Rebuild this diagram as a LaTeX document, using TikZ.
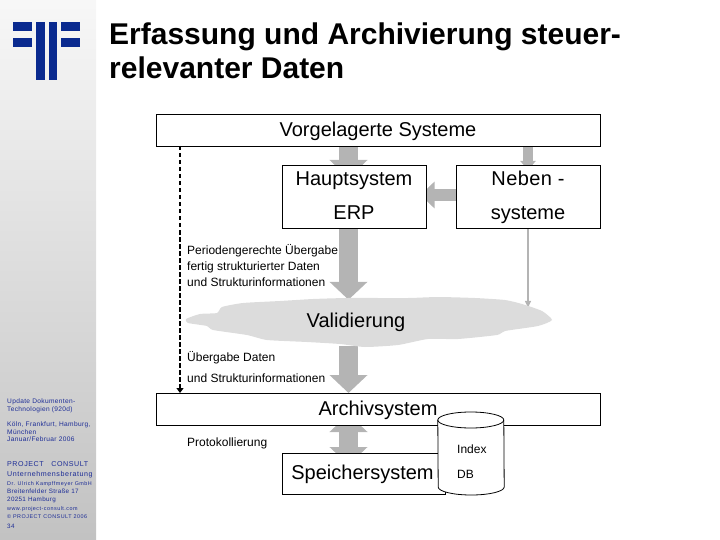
\documentclass[tikz,border=0pt]{standalone}
\usepackage{fontspec}
\setmainfont{Liberation Sans}
\usetikzlibrary{arrows.meta,backgrounds}
\definecolor{logoblue}{HTML}{0A2A8F}
\definecolor{sidetext}{HTML}{1C2C96}
\definecolor{arrowgray}{HTML}{B4B4B4}
\definecolor{cloudgray}{HTML}{DCDCDC}
\tikzset{
  box/.style={draw=black,line width=0.8pt,fill=white,minimum height=0pt,inner sep=0pt,outer sep=0pt},
  boxlabel/.style={font=\fontsize{20}{20}\selectfont,inner sep=0pt,anchor=center,text height=17.5pt,text depth=4.2pt},
  small/.style={font=\fontsize{12}{12}\selectfont,inner sep=0pt,anchor=west,text height=12.5pt,text depth=2.5pt},
  titletext/.style={anchor=west,inner sep=0pt,font=\fontsize{30}{30}\selectfont\bfseries,text height=22pt,text depth=6pt},
  bigarrow/.style={draw=arrowgray,line width=19pt,-{Triangle[length=18pt,width=37pt]}},
  bigboth/.style={draw=arrowgray,line width=19pt,{Triangle[length=18pt,width=37pt]}-{Triangle[length=18pt,width=37pt]}},
  midarrow/.style={draw=arrowgray,line width=12.5pt,-{Triangle[length=14pt,width=26pt]}},
  tinyarrow/.style={draw=arrowgray,line width=10.5pt,-{Triangle[length=9pt,width=15pt]}},
  thinarrow/.style={draw=arrowgray,line width=1.4pt,-{Triangle[length=7pt,width=6pt]}},
  dasharrow/.style={draw=black,line width=1.5pt,dash pattern=on 4.5pt off 2.5pt,-{Triangle[length=5pt,width=7pt]}},
  logobar/.style={fill=logoblue,draw=none},
  side/.style={text=sidetext,inner sep=0pt,anchor=west,text height=7pt,text depth=1.5pt,font=\fontsize{6.6}{7}\selectfont\addfontfeatures{LetterSpace=5}},
  sidelow/.style={side,font=\fontsize{6.3}{7}\selectfont\addfontfeatures{LetterSpace=5}},
  sidebig/.style={side,font=\fontsize{7.1}{8}\selectfont\addfontfeatures{LetterSpace=8}},
  sidewide/.style={side,font=\fontsize{5.4}{7}\selectfont\addfontfeatures{LetterSpace=9}},
}
\begin{document}
\begin{tikzpicture}[x=1pt,y=-1pt]
\useasboundingbox (0,0) rectangle (720,540);
% sidebar
\shade[top color=white!97!black,bottom color=black!24] (0,0) rectangle (96,540);
% logo
\fill[logobar] (13,22) rectangle (32,31.5);
\fill[logobar] (13,38) rectangle (32,47);
\fill[logobar] (36,22) rectangle (45,80);
\fill[logobar] (49,22) rectangle (57,80);
\fill[logobar] (61,22) rectangle (80,31.5);
\fill[logobar] (61,38) rectangle (80,47);
% title
\node[titletext] (t1) at (109,37) {Erfassung und Archivierung steuer-};
\node[titletext] (t2) at (109,71) {relevanter Daten};
% boxes
\node[box,minimum width=444.5pt,minimum height=32pt] (vor) at (378.2,130) {};
\node[boxlabel] (vorl) at (378,130) {Vorgelagerte Systeme};
\node[box,minimum width=144pt,minimum height=63pt] (haupt) at (354.5,196.5) {};
\node[boxlabel] (h1) at (354,179) {Hauptsystem};
\node[boxlabel] (h2) at (354,212.5) {ERP};
\node[box,minimum width=144.5pt,minimum height=63pt] (neben) at (528.2,196.5) {};
\node[boxlabel,font=\fontsize{20}{20}\selectfont\addfontfeatures{LetterSpace=2}] (n1) at (528,179) {Neben -};
\node[boxlabel] (n2) at (528,212.5) {systeme};
% cloud
\path[fill=cloudgray] plot[smooth cycle,tension=0.35] coordinates {(186,319) (200,314) (217,313) (222,307) (243,303) (280,301) (313,299) (348,298) (408,298) (438,297) (475,298) (505,300) (522,304) (542,311) (552,320) (538,326) (505,331) (497,335) (458,339) (428,339) (398,345) (365,347) (340,344) (307,342) (267,340) (247,335) (213,330) (207,326) (188,323)};
\node[inner sep=0pt,minimum width=366pt,minimum height=48pt] (val) at (369,322) {};
\node[boxlabel] (vall) at (356,321) {Validierung};
\node[box,minimum width=444.5pt,minimum height=32pt] (arch) at (378.2,409) {};
\node[boxlabel] (archl) at (378,409) {Archivsystem};
\node[box,minimum width=163pt,minimum height=41pt] (spei) at (363.5,473.5) {};
\node[boxlabel] (speil) at (362.5,473) {Speichersystem};
% cylinder
\node[inner sep=0pt,minimum width=66pt,minimum height=83pt] (db) at (471,454) {};
\path[draw=black,line width=0.8pt,fill=white] (db.west |- 0,420) arc[x radius=33pt,y radius=8pt,start angle=180,end angle=0] -- (db.east |- 0,487) arc[x radius=33pt,y radius=8pt,start angle=0,end angle=-180] -- cycle;
\path[draw=black,line width=0.8pt] (db.west |- 0,420) arc[x radius=33pt,y radius=8pt,start angle=180,end angle=360];
\node[small] (idx) at (457,448) {Index};
\node[small] (dbl) at (457,473) {DB};
% small labels
\node[small] (p1) at (187,249.5) {Periodengerechte Übergabe};
\node[small] (p2) at (187,265) {fertig strukturierter Daten};
\node[small] (p3) at (187,281) {und Strukturinformationen};
\node[small] (u1) at (187,356.5) {Übergabe Daten};
\node[small] (u2) at (187,377.5) {und Strukturinformationen};
\node[small] (pr) at (187,441) {Protokollierung};
% sidebar text
\node[side] (s1) at (7,401) {Update Dokumenten-};
\node[side] (s2) at (7,409) {Technologien (920d)};
\node[side] (s3) at (7,424) {Köln, Frankfurt, Hamburg,};
\node[side] (s4) at (7,431.5) {München};
\node[side] (s5) at (7,438.5) {Januar/Februar 2006};
\node[sidebig] (s6) at (7,464) {PROJECT\ \ \ CONSULT};
\node[sidebig] (s7) at (7,474) {Unternehmensberatung};
\node[sidewide] (s8) at (7,483) {Dr. Ulrich Kampffmeyer GmbH};
\node[sidelow] (s9) at (7,491) {Breitenfelder Straße 17};
\node[sidelow] (s10) at (7,499) {20251 Hamburg};
\node[sidewide] (s11) at (7,508) {www.project-consult.com};
\node[sidewide] (s12) at (7,515.5) {© PROJECT CONSULT 2006};
\node[sidelow] (s13) at (7,526) {34};
% connectors
\coordinate (xbig) at (348.5,0);
\coordinate (xneb) at (528,0);
\coordinate (xdash) at (180,0);
\coordinate (ymid) at (0,195);
\begin{scope}[on background layer]
\draw[bigarrow] (vor.south -| xbig) -- ([yshift=-13pt]haupt.north -| xbig);
\draw[tinyarrow] (vor.south -| xneb) -- ([yshift=-5pt]neben.north -| xneb);
\draw[midarrow] (neben.west |- ymid) -- ([xshift=-6pt]haupt.east |- ymid);
\draw[bigarrow] (haupt.south -| xbig) -- ([yshift=-2pt]val.north -| xbig);
\draw[thinarrow] (neben.south -| xneb) -- ([yshift=-10pt]val.north -| xneb);
\draw[bigarrow] (val.south -| xbig) -- (arch.north -| xbig);
\draw[bigboth] ([yshift=11pt]arch.south -| xbig) -- ([yshift=-12pt]spei.north -| xbig);
\end{scope}
\draw[dasharrow] (vor.south -| xdash) -- (arch.north -| xdash);
\end{tikzpicture}
\end{document}
